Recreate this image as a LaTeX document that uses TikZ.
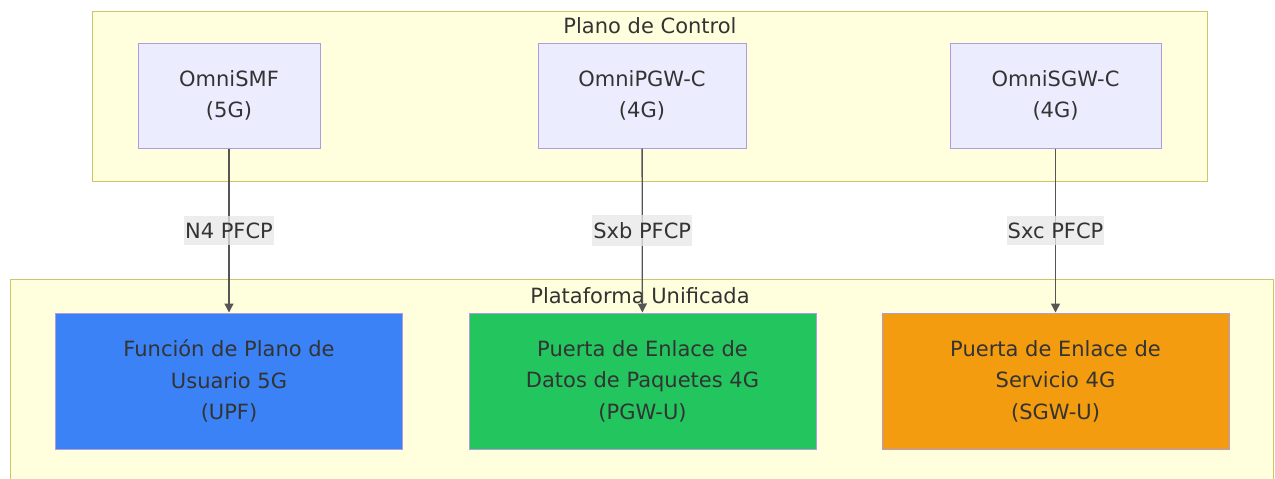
\documentclass[tikz,border=0pt]{standalone}
\usepackage{fontspec}
\setmainfont{DejaVu Sans}
\usetikzlibrary{arrows.meta}
\newlength{\boxheightcontrol}
\newlength{\boxheightuser}
\newlength{\boxwidthuser}
\setlength{\boxheightcontrol}{105pt}
\setlength{\boxheightuser}{136pt}
\setlength{\boxwidthuser}{347pt}
\definecolor{clusterfill}{HTML}{FFFFDE}
\definecolor{clusterline}{HTML}{C8C86A}
\definecolor{controlfill}{HTML}{ECECFF}
\definecolor{nodeline}{HTML}{B09AE0}
\definecolor{textgray}{HTML}{333333}
\definecolor{edgegray}{HTML}{555555}
\definecolor{labelfill}{HTML}{E8E8E8}
\definecolor{upfcolor}{HTML}{3B82F6}
\definecolor{pgwcolor}{HTML}{22C55E}
\definecolor{sgwcolor}{HTML}{F39C0F}
\tikzset{
	every node/.style={text=textgray, font=\fontsize{21}{31.5}\selectfont},
	clusterbox/.style={draw=clusterline, fill=clusterfill, line width=1pt},
	clustertitle/.style={inner sep=0},
	controlnode/.style={draw=nodeline, fill=controlfill, line width=1pt, minimum height=\boxheightcontrol, inner sep=0, align=center},
	usernode/.style={draw=nodeline, fill=#1, line width=1pt, minimum width=\boxwidthuser, minimum height=\boxheightuser, inner sep=0, align=center},
	flowedge/.style={draw=edgegray, line width=1.3pt, -{Triangle[length=9pt,width=9pt]}},
	edgelabel/.style={fill=labelfill, fill opacity=0.75, text opacity=1, inner xsep=1pt, inner ysep=7pt}
}

\begin{document}
\begin{tikzpicture}[x=1pt, y=-1pt]
	
	\clip (0,0) rectangle (1275,479);
	\fill[white] (0,0) rectangle (1275,479);
	
	% clusters
	\draw[clusterbox] (92,11) rectangle (1207,181);
	\node[clustertitle] (controltitle) at (650,26) {Plano de Control};
	\draw[clusterbox] (10,279) rectangle (1273,500);
	\node[clustertitle] (usertitle) at (640,296) {Plataforma Unificada};
	
	% control plane
	\node[controlnode, minimum width=182pt] (smf) at (229,95.5) {OmniSMF\\(5G)};
	\node[controlnode, minimum width=208pt] (pgwc) at (642,95.5) {OmniPGW-C\\(4G)};
	\node[controlnode, minimum width=211pt] (sgwc) at (1055.5,95.5) {OmniSGW-C\\(4G)};
	
	% user plane
	\node[usernode=upfcolor] (upf) at (229,381) {Función de Plano de\\Usuario 5G\\(UPF)};
	\node[usernode=pgwcolor] (pgwu) at (642.5,381) {Puerta de Enlace de\\Datos de Paquetes 4G\\(PGW-U)};
	\node[usernode=sgwcolor] (sgwu) at (1055.5,381) {Puerta de Enlace de\\Servicio 4G\\(SGW-U)};
	
	\draw[flowedge] (smf) -- node[edgelabel] {N4 PFCP} (upf);
	\draw[flowedge] (pgwc) -- node[edgelabel] {Sxb PFCP} (pgwu);
	\draw[flowedge] (sgwc) -- node[edgelabel] {Sxc PFCP} (sgwu);
	
\end{tikzpicture}
\end{document}
